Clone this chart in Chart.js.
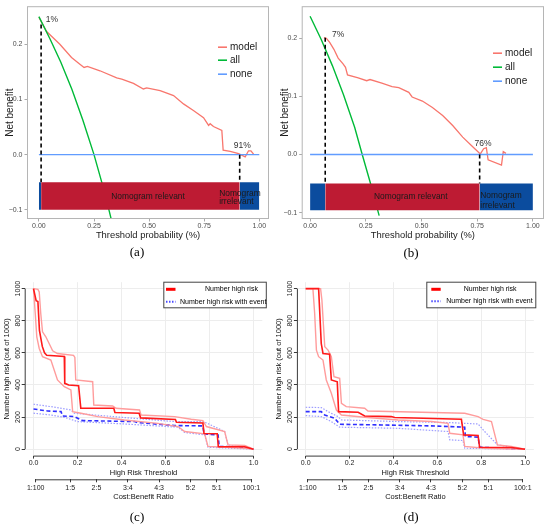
<!DOCTYPE html>
<html lang="en">
<head>
<meta charset="UTF-8">
<title>Decision curves and clinical impact curves</title>
<script src="https://cdn.jsdelivr.net/npm/chart.js"></script>
<style>
  body { margin: 0; background: #fff; }
  #wrap { position: relative; width: 550px; height: 526px; overflow: hidden; }
  canvas { position: absolute; }
  .cap { position: absolute; transform: translate(-50%, -50%); font-family: 'Liberation Serif', serif; font-size: 13px; color: #000; }
</style>
</head>
<body>
<div id="wrap">
  <canvas id="chartA" width="275" height="245" style="left:0;top:0"></canvas>
  <canvas id="chartB" width="275" height="245" style="left:275px;top:0"></canvas>
  <canvas id="chartC" width="275" height="240" style="left:0;top:270px"></canvas>
  <canvas id="chartD" width="278" height="240" style="left:272px;top:270px"></canvas>
  <div class="cap" style="left:137px;top:252px">(a)</div>
  <div class="cap" style="left:411px;top:253px">(b)</div>
  <div class="cap" style="left:137px;top:517px">(c)</div>
  <div class="cap" style="left:411px;top:517px">(d)</div>
</div>

<script>
// ---------- (a) decision curve ----------
const aModelT  = [0, 0.035, 0.095, 0.148, 0.186, 0.205, 0.220, 0.277, 0.353, 0.376, 0.429, 0.474, 0.489, 0.550, 0.611, 0.656, 0.701, 0.747, 0.770, 0.777, 0.792, 0.830, 0.836, 0.868, 0.906, 0.936, 0.951, 0.962, 0.974];
const aModelNB = [0.249, 0.223, 0.200, 0.176, 0.164, 0.158, 0.160, 0.152, 0.139, 0.137, 0.129, 0.119, 0.121, 0.116, 0.107, 0.092, 0.080, 0.067, 0.053, 0.056, 0.051, 0.044, 0.008, 0.006, 0.002, -0.004, 0.007, 0.007, 0.001];
const aAllT    = [0, 0.05, 0.10, 0.15, 0.20, 0.25, 0.30, 0.33];
const aAllNB   = [0.250, 0.210, 0.167, 0.118, 0.062, 0.000, -0.071, -0.120];
const aCuts    = [0.01, 0.911];      // threshold range where the nomogram helps
const aCutTops = [0.236, 0.0];

// ---------- (b) decision curve ----------
const bModelT  = [0.062, 0.073, 0.088, 0.107, 0.126, 0.148, 0.159, 0.168, 0.216, 0.254, 0.269, 0.322, 0.368, 0.398, 0.443, 0.458, 0.504, 0.549, 0.595, 0.640, 0.685, 0.731, 0.764, 0.779, 0.791, 0.799, 0.859, 0.867, 0.879];
const bModelNB = [0.201, 0.200, 0.193, 0.181, 0.166, 0.156, 0.150, 0.137, 0.132, 0.127, 0.129, 0.123, 0.117, 0.115, 0.107, 0.099, 0.092, 0.081, 0.067, 0.050, 0.030, 0.013, 0.001, 0.010, 0.012, -0.009, -0.018, 0.005, 0.002];
const bAllT    = [0, 0.05, 0.10, 0.15, 0.20, 0.234, 0.27, 0.31];
const bAllNB   = [0.238, 0.198, 0.153, 0.103, 0.047, 0.000, -0.048, -0.105];
const bCuts    = [0.068, 0.761];
const bCutTops = [0.201, 0.0];

const noneT  = [0, 1];
const noneNB = [0, 0];
const dcaXTicks = [0, 0.25, 0.5, 0.75, 1];
const dcaYTicks = [-0.1, 0, 0.1, 0.2];

// ---------- (c) clinical impact curve ----------
const cRiskT   = [0, 0.012, 0.02, 0.027, 0.04, 0.05, 0.06, 0.14, 0.142, 0.16, 0.205, 0.215, 0.365, 0.37, 0.48, 0.487, 0.645, 0.65, 0.77, 0.775, 0.835, 0.84, 0.96, 1.0];
const cRiskN   = [1000, 925, 920, 740, 640, 600, 585, 578, 410, 400, 395, 255, 255, 228, 224, 195, 185, 168, 163, 98, 96, 15, 15, 0];
const cRiskHiT = [0, 0.02, 0.026, 0.033, 0.041, 0.056, 0.071, 0.087, 0.109, 0.182, 0.188, 0.192, 0.269, 0.274, 0.36, 0.375, 0.482, 0.489, 0.641, 0.717, 0.77, 0.786, 0.869, 0.884, 0.96, 1.0];
const cRiskHiN = [1000, 995, 979, 845, 731, 700, 658, 613, 596, 584, 571, 431, 420, 275, 269, 255, 244, 213, 203, 186, 178, 141, 110, 27, 23, 0];
const cRiskLoT = [0, 0.008, 0.015, 0.026, 0.041, 0.079, 0.094, 0.109, 0.14, 0.17, 0.178, 0.216, 0.292, 0.413, 0.565, 0.657, 0.687, 0.778, 0.793, 0.96, 1.0];
const cRiskLoN = [1000, 845, 700, 627, 576, 555, 493, 431, 389, 369, 234, 224, 203, 182, 161, 141, 110, 95, 17, 6, 0];
const cEvT     = [0, 0.064, 0.125, 0.132, 0.185, 0.223, 0.459, 0.474, 0.641, 0.77, 0.775, 0.839, 0.844, 0.96, 1.0];
const cEvN     = [250, 238, 234, 207, 203, 178, 172, 166, 147, 145, 95, 89, 17, 12, 0];
const cEvHiT   = [0, 0.079, 0.17, 0.185, 0.413, 0.641, 0.77, 0.79, 0.869, 0.884, 1.0];
const cEvHiN   = [280, 265, 244, 224, 197, 172, 172, 161, 110, 27, 0];
const cEvLoT   = [0, 0.079, 0.14, 0.2, 0.413, 0.657, 0.687, 0.778, 0.793, 1.0];
const cEvLoN   = [224, 213, 199, 172, 157, 137, 104, 89, 12, 0];

// ---------- (d) clinical impact curve ----------
const dRiskT   = [0, 0.059, 0.071, 0.079, 0.109, 0.117, 0.144, 0.15, 0.239, 0.269, 0.39, 0.406, 0.71, 0.72, 0.786, 0.793, 0.938, 1.0];
const dRiskN   = [1000, 1000, 658, 596, 592, 431, 420, 234, 230, 207, 203, 197, 186, 89, 85, 12, 10, 0];
const dRiskHiT = [0, 0.068, 0.074, 0.087, 0.102, 0.117, 0.129, 0.155, 0.163, 0.185, 0.269, 0.284, 0.725, 0.786, 0.809, 0.847, 0.874, 0.938, 1.0];
const dRiskHiN = [1000, 1000, 928, 638, 617, 576, 451, 441, 286, 265, 255, 238, 224, 203, 186, 172, 27, 17, 0];
const dRiskLoT = [0, 0.033, 0.041, 0.049, 0.059, 0.079, 0.094, 0.117, 0.14, 0.163, 0.269, 0.421, 0.573, 0.649, 0.657, 0.717, 0.725, 0.816, 1.0];
const dRiskLoN = [1000, 1000, 845, 617, 576, 555, 431, 348, 244, 213, 199, 182, 172, 161, 99, 89, 17, 6, 0];
const dEvT     = [0, 0.071, 0.087, 0.132, 0.155, 0.345, 0.573, 0.725, 0.728, 0.786, 0.793, 1.0];
const dEvN     = [234, 234, 213, 193, 155, 151, 145, 137, 79, 75, 12, 0];
const dEvHiT   = [0, 0.071, 0.102, 0.147, 0.163, 0.421, 0.649, 0.786, 0.816, 0.874, 1.0];
const dEvHiN   = [261, 259, 234, 203, 182, 172, 166, 157, 110, 27, 0];
const dEvLoT   = [0, 0.071, 0.117, 0.155, 0.421, 0.649, 0.657, 0.717, 0.725, 1.0];
const dEvLoN   = [209, 203, 172, 137, 130, 110, 58, 54, 6, 0];

const cicXTicks = [0, 0.2, 0.4, 0.6, 0.8, 1.0];
const cicYTicks = [0, 200, 400, 600, 800, 1000];
const costT     = [0.01, 0.167, 0.286, 0.429, 0.571, 0.714, 0.833, 0.99];
const costLab   = ['1:100', '1:5', '2:5', '3:4', '4:3', '5:2', '5:1', '100:1'];

// ---------- shared setup ----------
Chart.defaults.font.family = "'Liberation Sans', Arial, sans-serif";
Chart.defaults.animation = false;
Chart.defaults.events = [];
Chart.defaults.plugins.legend.display = false;
Chart.defaults.plugins.tooltip.enabled = false;

const MODEL = '#F8766D', ALL = '#00BA38', NONE = '#619CFF';
const BAR_RED = '#BD1B33', BAR_BLUE = '#0B4C9E';

const pts = (xs, ys) => xs.map((v, i) => ({ x: v, y: ys[i] }));

function curve(data, color, width, dash) {
  return { data, borderColor: color, borderWidth: width, borderDash: dash || [],
           pointRadius: 0, fill: false, tension: 0 };
}
function band(x0, x1, top, bottom, color) {
  return { data: pts([x0, x1], [top, top]), borderColor: 'rgba(0,0,0,0)', borderWidth: 0,
           backgroundColor: color, pointRadius: 0, fill: { value: bottom } };
}

// frame, labels and legend for the ggplot-style panels
const dcaDeco = {
  id: 'dcaDeco',
  afterDatasetsDraw(chart, args, o) {
    const { ctx, chartArea: ca, scales: { x, y } } = chart;
    ctx.save();
    ctx.textBaseline = 'middle';
    o.texts.forEach(t => {
      ctx.font = t.size + "px 'Liberation Sans', Arial, sans-serif";
      ctx.fillStyle = t.color || '#1a1a1a';
      ctx.textAlign = t.align || 'center';
      ctx.fillText(t.text, x.getPixelForValue(t.x), y.getPixelForValue(t.y));
    });
    ctx.strokeStyle = '#b5b5b5';
    ctx.lineWidth = 1;
    ctx.strokeRect(ca.left + 0.5, ca.top + 0.5, ca.width - 1, ca.height - 1);
    ctx.font = "10px 'Liberation Sans', Arial, sans-serif";
    ctx.textAlign = 'left';
    o.legend.forEach((e, i) => {
      const yy = ca.top + o.legendY[i];
      ctx.strokeStyle = e.color;
      ctx.lineWidth = 1.6;
      ctx.beginPath();
      ctx.moveTo(ca.right - 51, yy);
      ctx.lineTo(ca.right - 42, yy);
      ctx.stroke();
      ctx.fillStyle = '#1a1a1a';
      ctx.fillText(e.label, ca.right - 39, yy);
    });
    ctx.restore();
  }
};

function dcaChart(id, d) {
  const datasets = [
    band(0, d.cuts[0], -0.05, d.barBottom, BAR_BLUE),
    band(d.cuts[0], d.cuts[1], -0.05, d.barBottom, BAR_RED),
    band(d.cuts[1], 1, -0.05, d.barBottom, BAR_BLUE),
    curve(pts([d.cuts[0], d.cuts[0]], [d.cutTops[0], -0.05]), '#000', 1.6, [4, 3]),
    curve(pts([d.cuts[1], d.cuts[1]], [d.cutTops[1], -0.05]), '#000', 1.6, [4, 3]),
    curve(pts(noneT, noneNB), NONE, 1.4),
    curve(pts(d.allT, d.allNB), ALL, 1.4),
    curve(pts(d.modelT, d.modelNB), MODEL, 1.3)
  ];
  return new Chart(document.getElementById(id), {
    type: 'line',
    data: { datasets },
    options: {
      responsive: false,
      layout: { padding: { left: 0, right: 6, top: 5, bottom: 0 } },
      scales: {
        x: {
          type: 'linear', min: d.xMin, max: d.xMax, bounds: 'data',
          afterBuildTicks: s => { s.ticks = dcaXTicks.map(v => ({ value: v })); },
          afterFit: s => { s.height = 26; },
          ticks: { callback: v => v.toFixed(2), color: '#4d4d4d', font: { size: 7 }, padding: 0, maxRotation: 0, autoSkip: false },
          grid: { display: true, drawOnChartArea: false, tickLength: 2.5, tickColor: '#aaa' },
          border: { display: false },
          title: { display: true, text: 'Threshold probability (%)', color: '#1a1a1a', font: { size: 9.4 }, padding: { top: 0, bottom: 4.4 } }
        },
        y: {
          type: 'linear', min: d.yMin, max: d.yMax, bounds: 'data',
          afterBuildTicks: s => { s.ticks = dcaYTicks.map(v => ({ value: v })); },
          afterFit: s => { s.width = d.yWidth; },
          ticks: { callback: v => v.toFixed(1).replace('-', '\u2212'), color: '#4d4d4d', font: { size: 7 }, padding: 2, autoSkip: false },
          grid: { display: true, drawOnChartArea: false, tickLength: 2.5, tickColor: '#aaa' },
          border: { display: false },
          title: { display: true, text: 'Net benefit', color: '#1a1a1a', font: { size: 10 }, padding: { top: 4.5, bottom: 0 } }
        }
      },
      plugins: {
        dcaDeco: {
          texts: d.texts,
          legendY: d.legendY,
          legend: [{ label: 'model', color: MODEL }, { label: 'all', color: ALL }, { label: 'none', color: NONE }]
        }
      }
    },
    plugins: [dcaDeco]
  });
}

dcaChart('chartA', {
  modelT: aModelT, modelNB: aModelNB, allT: aAllT, allNB: aAllNB,
  cuts: aCuts, cutTops: aCutTops, barBottom: -0.1,
  xMin: -0.054, xMax: 1.044, yMin: -0.1166, yMax: 0.269, yWidth: 27,
  legendY: [41, 54, 68],
  texts: [
    { text: '1%', x: 0.059, y: 0.244, size: 8.5, color: '#333' },
    { text: '91%', x: 0.923, y: 0.017, size: 8.5, color: '#333' },
    { text: 'Nomogram relevant', x: 0.495, y: -0.077, size: 8.4 },
    { text: 'Nomogram', x: 0.818, y: -0.070, size: 8.4, align: 'left' },
    { text: 'irrelevant', x: 0.818, y: -0.085, size: 8.4, align: 'left' }
  ]
});

dcaChart('chartB', {
  modelT: bModelT, modelNB: bModelNB, allT: bAllT, allNB: bAllNB,
  cuts: bCuts, cutTops: bCutTops, barBottom: -0.096,
  xMin: -0.0376, xMax: 1.0498, yMin: -0.1109, yMax: 0.2552, yWidth: 26.7,
  legendY: [47, 61, 75],
  texts: [
    { text: '7%', x: 0.126, y: 0.207, size: 8.5, color: '#333' },
    { text: '76%', x: 0.776, y: 0.018, size: 8.5, color: '#333' },
    { text: 'Nomogram relevant', x: 0.452, y: -0.073, size: 8.4 },
    { text: 'Nomogram', x: 0.764, y: -0.071, size: 8.4, align: 'left' },
    { text: 'irrelevant', x: 0.764, y: -0.088, size: 8.4, align: 'left' }
  ]
});

// R base-graphics axes and legend for the clinical impact panels
const cicDeco = {
  id: 'cicDeco',
  afterDraw(chart, args, o) {
    const { ctx, chartArea: ca, scales: { x, x2, y } } = chart;
    ctx.save();
    ctx.strokeStyle = '#3a3a3a';
    ctx.lineWidth = 1;
    ctx.beginPath();
    ctx.moveTo(x.getPixelForValue(cicXTicks[0]), ca.bottom + 0.5);
    ctx.lineTo(x.getPixelForValue(cicXTicks[cicXTicks.length - 1]), ca.bottom + 0.5);
    ctx.moveTo(x2.getPixelForValue(costT[0]), x2.top + 0.5);
    ctx.lineTo(x2.getPixelForValue(costT[costT.length - 1]), x2.top + 0.5);
    ctx.moveTo(ca.left + 0.5, y.getPixelForValue(cicYTicks[0]));
    ctx.lineTo(ca.left + 0.5, y.getPixelForValue(cicYTicks[cicYTicks.length - 1]));
    ctx.stroke();

    const L = o.legend;
    ctx.fillStyle = '#fff';
    ctx.fillRect(L.box[0], L.box[1], L.box[2], L.box[3]);
    ctx.strokeStyle = '#444';
    ctx.strokeRect(L.box[0] + 0.5, L.box[1] + 0.5, L.box[2], L.box[3]);
    ctx.lineWidth = 3;
    ctx.strokeStyle = '#ff0000';
    ctx.beginPath();
    ctx.moveTo(L.sample[0], L.rows[0]);
    ctx.lineTo(L.sample[1], L.rows[0]);
    ctx.stroke();
    ctx.lineWidth = 2;
    ctx.strokeStyle = '#4a4aff';
    ctx.setLineDash([1.5, 1.5]);
    ctx.beginPath();
    ctx.moveTo(L.sample[0], L.rows[1]);
    ctx.lineTo(L.sample[1], L.rows[1]);
    ctx.stroke();
    ctx.setLineDash([]);
    ctx.fillStyle = '#000';
    ctx.font = "7px 'Liberation Sans', Arial, sans-serif";
    ctx.textAlign = 'left';
    ctx.textBaseline = 'middle';
    ctx.fillText('Number high risk', L.textX[0], L.rows[0]);
    ctx.fillText('Number high risk with event', L.textX[1], L.rows[1]);
    ctx.restore();
  }
};

function cicChart(id, d) {
  const RED = '#ff1a1a', RED_CI = '#ff9c9c', BLUE = '#2f2fff', BLUE_CI = '#9d9dff';
  const datasets = [
    curve(pts(d.riskT, d.riskN), RED, 1.6),
    curve(pts(d.riskHiT, d.riskHiN), RED_CI, 1.4),
    curve(pts(d.riskLoT, d.riskLoN), RED_CI, 1.4),
    curve(pts(d.evT, d.evN), BLUE, 1.6, [4, 2.5]),
    curve(pts(d.evHiT, d.evHiN), BLUE_CI, 1.2, [1.5, 1.5]),
    curve(pts(d.evLoT, d.evLoN), BLUE_CI, 1.2, [1.5, 1.5])
  ];
  const tickFont = { size: 7 };
  return new Chart(document.getElementById(id), {
    type: 'line',
    data: { datasets },
    options: {
      responsive: false,
      layout: { padding: { left: 0, right: d.padRight, top: 12.2, bottom: 7 } },
      scales: {
        x: {
          type: 'linear', min: -0.04, max: 1.04, bounds: 'data', position: 'bottom', weight: 0,
          afterBuildTicks: s => { s.ticks = cicXTicks.map(v => ({ value: v })); },
          afterFit: s => { s.height = 23.7; },
          ticks: { callback: v => v.toFixed(1), color: '#222', font: tickFont, padding: 0.5, maxRotation: 0, autoSkip: false },
          grid: { display: true, color: '#ededed', lineWidth: 1, tickLength: 3, tickColor: '#3a3a3a' },
          border: { display: false },
          title: { display: true, text: 'High Risk Threshold', color: '#111', font: { size: 7.5 }, padding: { top: 0, bottom: 1.5 } }
        },
        x2: {
          type: 'linear', axis: 'x', min: -0.04, max: 1.04, bounds: 'data', position: 'bottom', weight: 1,
          afterBuildTicks: s => { s.ticks = costT.map(v => ({ value: v })); },
          afterFit: s => { s.height = 23.7; },
          ticks: { callback: (v, i) => costLab[i], color: '#222', font: tickFont, padding: 1.2, maxRotation: 0, autoSkip: false },
          grid: { display: true, drawOnChartArea: false, tickLength: 3, tickColor: '#3a3a3a' },
          border: { display: false },
          title: { display: true, text: 'Cost:Benefit Ratio', color: '#111', font: { size: 7.5 }, padding: { top: 0, bottom: 1.8 } }
        },
        y: {
          type: 'linear', min: -40, max: 1040, bounds: 'data',
          afterBuildTicks: s => { s.ticks = cicYTicks.map(v => ({ value: v })); },
          afterFit: s => { s.width = d.yWidth; },
          ticks: { callback: v => String(v), color: '#222', font: tickFont, minRotation: 90, maxRotation: 90,
                   crossAlign: 'center', padding: -3.8, autoSkip: false },
          grid: { display: true, color: '#ededed', lineWidth: 1, tickLength: 3, tickColor: '#3a3a3a' },
          border: { display: false },
          title: { display: true, text: 'Number high risk (out of 1000)', color: '#111', font: { size: 7.5 }, padding: { top: 2.2, bottom: 0 } }
        }
      },
      plugins: { cicDeco: { legend: d.legend } }
    },
    plugins: [cicDeco]
  });
}

cicChart('chartC', {
  riskT: cRiskT, riskN: cRiskN, riskHiT: cRiskHiT, riskHiN: cRiskHiN, riskLoT: cRiskLoT, riskLoN: cRiskLoN,
  evT: cEvT, evN: cEvN, evHiT: cEvHiT, evHiN: cEvHiN, evLoT: cEvLoT, evLoN: cEvLoN,
  yWidth: 24.7, padRight: 12.7,
  legend: { box: [163.3, 11.7, 102.5, 25.6], sample: [166, 175.5], rows: [19.3, 31.7], textX: [205, 180] }
});

cicChart('chartD', {
  riskT: dRiskT, riskN: dRiskN, riskHiT: dRiskHiT, riskHiN: dRiskHiN, riskLoT: dRiskLoT, riskLoN: dRiskLoN,
  evT: dEvT, evN: dEvN, evHiT: dEvHiT, evHiN: dEvHiN, evLoT: dEvLoT, evLoN: dEvLoN,
  yWidth: 24.9, padRight: 16.2,
  legend: { box: [154.3, 11.7, 109, 25.6], sample: [159.3, 168.7], rows: [19.3, 31.3], textX: [191.7, 174.3] }
});
</script>
</body>
</html>
